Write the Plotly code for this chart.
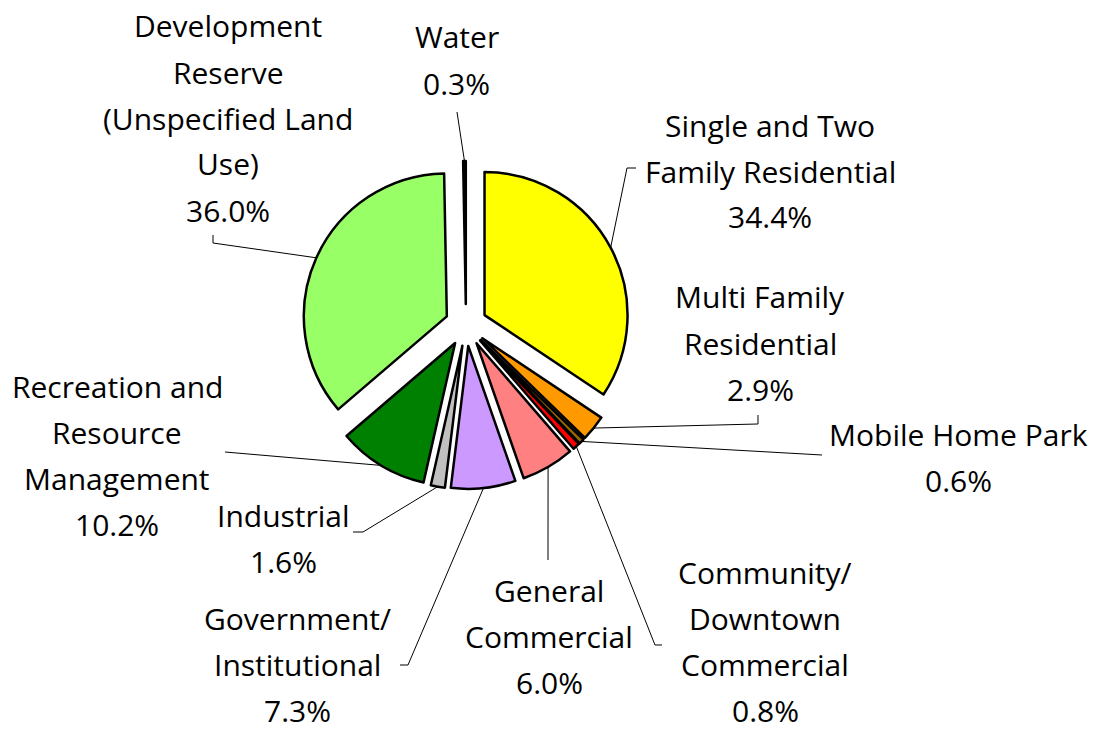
import math
import plotly.graph_objects as go

# ---- data ----
categories = [
    "Single and Two Family Residential",
    "Multi Family Residential",
    "Mobile Home Park",
    "Community/ Downtown Commercial",
    "General Commercial",
    "Government/ Institutional",
    "Industrial",
    "Recreation and Resource Management",
    "Development Reserve (Unspecified Land Use)",
    "Water",
]
label_lines = [
    ["Single and Two", "Family Residential"],
    ["Multi Family", "Residential"],
    ["Mobile Home Park"],
    ["Community/", "Downtown", "Commercial"],
    ["General", "Commercial"],
    ["Government/", "Institutional"],
    ["Industrial"],
    ["Recreation and", "Resource", "Management"],
    ["Development", "Reserve", "(Unspecified Land", "Use)"],
    ["Water"],
]
values = [34.4, 2.9, 0.6, 0.8, 6.0, 7.3, 1.6, 10.2, 36.0, 0.3]
colors = ["#FFFF00", "#FF9900", "#996600", "#FF0000", "#FF8080",
          "#CC99FF", "#C0C0C0", "#008000", "#99FF66", "#000000"]

# ---- layout constants (pixels) ----
W, H = 1094, 730
CX, CY = 466, 325          # pie centre
R = 143                    # pie radius
PULL = 0.147               # explosion as fraction of radius
HALF = R * (1 + PULL)
LINE_H = 46
FONT = dict(family="'Open Sans', 'Noto Sans', sans-serif", size=30, color="#000000")

# label block anchor: (centre x, first line y)
label_pos = [(770, 125), (760, 297), (958, 434), (765, 572), (549, 590),
             (298, 618), (283, 515), (117, 386), (228, 26), (457, 37)]
# leader-line bends on label side (pixels)
leader_pts = [
    [(627, 168), (636, 168)],
    [(758, 424), (758, 415)],
    [(822, 455)],
    [(655, 645), (662, 645)],
    [(548, 560)],
    [(408, 665), (400, 665)],
    [(363, 532), (353, 532)],
    [(225, 452)],
    [(213, 243), (213, 235)],
    [(457, 112)],
]

def px(x):
    return x / W

def py(y):
    return 1 - y / H

fig = go.Figure(go.Pie(
    labels=categories,
    values=values,
    marker=dict(colors=colors, line=dict(color="#000000", width=2.5)),
    pull=[PULL] * len(values),
    sort=False,
    direction="clockwise",
    rotation=0,
    textinfo="none",
    hoverinfo="label+percent",
    domain=dict(x=[px(CX - HALF), px(CX + HALF)],
                y=[py(CY + HALF), py(CY - HALF)]),
))

total = sum(values)
annotations = []
shapes = []
cum = 0.0
for i, v in enumerate(values):
    mid = (cum + v / 2) / total * 2 * math.pi
    cum += v
    dx, dy = math.sin(mid), -math.cos(mid)
    ex = CX + dx * (R * PULL + R)
    ey = CY + dy * (R * PULL + R)
    pts = [(ex, ey)] + leader_pts[i]
    path = "M " + " L ".join(f"{px(x):.5f},{py(y):.5f}" for x, y in pts)
    shapes.append(dict(type="path", path=path, xref="paper", yref="paper",
                       line=dict(color="#000000", width=1)))
    lines = label_lines[i] + [f"{v:.1f}%"]
    lx, ly = label_pos[i]
    for k, t in enumerate(lines):
        annotations.append(dict(
            text=t, x=px(lx), y=py(ly + k * LINE_H), xref="paper", yref="paper",
            xanchor="center", yanchor="middle", showarrow=False, font=FONT))

fig.update_layout(
    width=W, height=H,
    margin=dict(l=0, r=0, t=0, b=0),
    paper_bgcolor="white", plot_bgcolor="white",
    showlegend=False,
    annotations=annotations,
    shapes=shapes,
)

fig.write_html("out.html")
